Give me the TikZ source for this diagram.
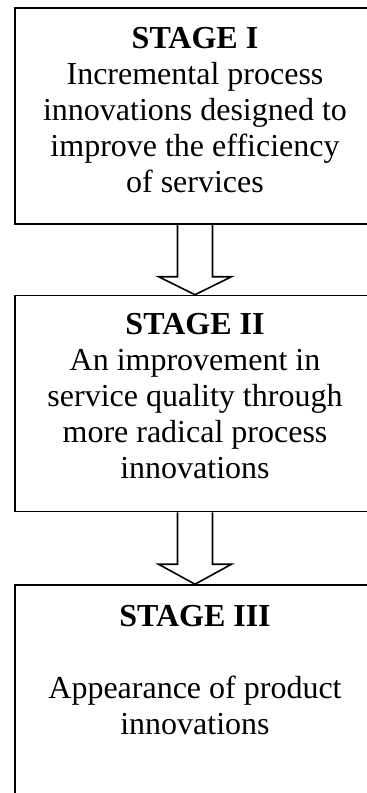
\documentclass[tikz,border=0pt]{standalone}
\usepackage{fontspec}
\setmainfont{Liberation Serif}
\usetikzlibrary{calc}
\begin{document}
\begin{tikzpicture}[x=0.75pt,y=-0.75pt,
  frame/.style={draw, line width=1.2pt, minimum width=270pt, inner sep=0pt},
  label/.style={align=center, font=\fontsize{24}{27}\selectfont, inner sep=0pt},
  hollow/.style={draw, line width=1.2pt, line join=miter}]
\useasboundingbox (0,0) rectangle (367,793);
\clip (0,0) rectangle (367,793);
% boxes
\node[frame, minimum height=162pt] (s1) at (195,116) {};
\node[frame, minimum height=162pt] (s2) at (195,403.5) {};
\node[frame, minimum height=180pt] (s3) at (195,705) {};
% texts
\node[label] (t1) at (195,110) {\textbf{STAGE I}\\Incremental process\\innovations designed to\\improve the efficiency\\of services};
\node[label] (t2) at (195,396) {\textbf{STAGE II}\\An improvement in\\service quality through\\more radical process\\innovations};
\node[label] (t3) at (195,670.5) {\textbf{STAGE III}\\[27pt]Appearance of product\\innovations};
% arrows
\draw[hollow] ($(s1.south)+(-17.5,0)$) |- ($(s2.north)+(-36.5,-18)$) -- (s2.north) -- ($(s2.north)+(36.5,-18)$) -| ($(s1.south)+(17.5,0)$);
\draw[hollow] ($(s2.south)+(-17.5,0)$) |- ($(s3.north)+(-36.5,-20)$) -- (s3.north) -- ($(s3.north)+(36.5,-20)$) -| ($(s2.south)+(17.5,0)$);
\end{tikzpicture}
\end{document}
